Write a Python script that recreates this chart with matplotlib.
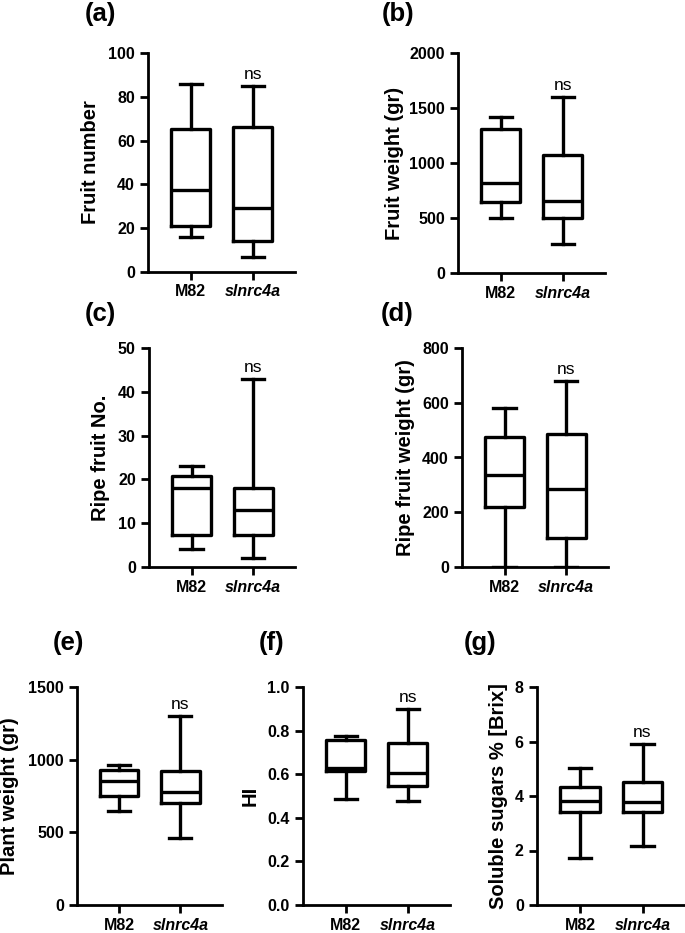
import matplotlib
matplotlib.use('Agg')
import matplotlib.pyplot as plt

plt.rcParams['font.family'] = ['Liberation Sans', 'DejaVu Sans']

# ============================================================================
# DATA  (five-number summaries: whisker low, Q1, median, Q3, whisker high)
# ============================================================================

GROUPS = ['M82', 'slnrc4a']

FRUIT_NUMBER_M82 = [16, 21, 37.5, 65.5, 86]
FRUIT_NUMBER_KO = [7, 14, 29, 66, 85]

FRUIT_WEIGHT_M82 = [500, 650, 820, 1310, 1420]
FRUIT_WEIGHT_KO = [260, 500, 655, 1070, 1600]

RIPE_NO_M82 = [4, 7.3, 18, 20.8, 23]
RIPE_NO_KO = [2, 7.3, 13, 18, 43]

RIPE_WEIGHT_M82 = [0, 220, 335, 475, 580]
RIPE_WEIGHT_KO = [0, 105, 285, 487, 680]

PLANT_WEIGHT_M82 = [645, 750, 850, 930, 965]
PLANT_WEIGHT_KO = [460, 705, 780, 920, 1300]

HI_M82 = [0.485, 0.615, 0.63, 0.755, 0.775]
HI_KO = [0.477, 0.548, 0.607, 0.743, 0.90]

BRIX_M82 = [1.73, 3.43, 3.83, 4.33, 5.02]
BRIX_KO = [2.15, 3.40, 3.78, 4.52, 5.9]

# ============================================================================
# LAYOUT (pixels)
# ============================================================================

W, H = 685, 933

PANELS = [
    # tag, ylabel, m82, ko, (ymax, ystep, fmt), axes rect (l, t, r, b), tag pos, ylabel x
    ('(a)', 'Fruit number', FRUIT_NUMBER_M82, FRUIT_NUMBER_KO, (100, 20, '{:.0f}'),
     (148, 53, 295, 272), (100, 14), 90),
    ('(b)', 'Fruit weight (gr)', FRUIT_WEIGHT_M82, FRUIT_WEIGHT_KO, (2000, 500, '{:.0f}'),
     (458, 53, 605, 273), (398, 14), 394),
    ('(c)', 'Ripe fruit No.', RIPE_NO_M82, RIPE_NO_KO, (50, 10, '{:.0f}'),
     (149, 348, 295, 567), (100, 314), 100),
    ('(d)', 'Ripe fruit weight (gr)', RIPE_WEIGHT_M82, RIPE_WEIGHT_KO, (800, 200, '{:.0f}'),
     (462, 348, 608, 567), (397, 314), 405),
    ('(e)', 'Plant weight (gr)', PLANT_WEIGHT_M82, PLANT_WEIGHT_KO, (1500, 500, '{:.0f}'),
     (77, 687, 222, 905), (68, 643), 9),
    ('(f)', 'HI', HI_M82, HI_KO, (1.0, 0.2, '{:.1f}'),
     (303, 687, 450, 905), (272, 643), 250),
    ('(g)', 'Soluble sugars % [Brix]', BRIX_M82, BRIX_KO, (8, 2, '{:.0f}'),
     (537, 687, 685, 905), (480, 643), 498),
]

LW_BOX = 2.4
LW_AXIS = 2.0


def five_to_stats(values, label):
    lo, q1, med, q3, hi = values
    return {'whislo': lo, 'q1': q1, 'med': med, 'q3': q3, 'whishi': hi,
            'fliers': [], 'label': label}


def draw_panel(fig, spec):
    tag, ylabel, m82, ko, (ymax, ystep, fmt), rect, tag_pos, ylab_x = spec
    l, t, r, b = rect
    ax = fig.add_axes([l / W, 1 - b / H, (r - l) / W, (b - t) / H])

    stats = [five_to_stats(m82, GROUPS[0]), five_to_stats(ko, GROUPS[1])]
    line = dict(color='black', linewidth=LW_BOX)
    ax.bxp(stats, positions=[1, 2], widths=0.63, capwidths=0.36,
           showfliers=False, boxprops=line, whiskerprops=line,
           capprops=line, medianprops=line)

    ax.set_xlim(0.31, 2.68)
    ax.set_ylim(0, ymax)
    n = int(round(ymax / ystep))
    ticks = [i * ystep for i in range(n + 1)]
    ax.set_yticks(ticks)
    ax.set_yticklabels([fmt.format(v) for v in ticks])
    ax.set_xticks([1, 2])
    ax.set_xticklabels(GROUPS)

    for s in ['top', 'right']:
        ax.spines[s].set_visible(False)
    for s in ['left', 'bottom']:
        ax.spines[s].set_linewidth(LW_AXIS)
    ax.tick_params(axis='both', width=LW_AXIS, length=6, labelsize=11.5)
    ax.tick_params(axis='x', pad=3)
    for lbl in ax.get_yticklabels() + ax.get_xticklabels():
        lbl.set_fontweight('bold')
    ax.get_xticklabels()[1].set_style('italic')

    ax.set_ylabel(ylabel, fontsize=14.5, fontweight='bold', va='center')
    ax.yaxis.set_label_coords((ylab_x - l) / (r - l), 0.5)

    ax.annotate('ns', xy=(2, ko[4]), xytext=(0, 5), textcoords='offset points',
                ha='center', va='baseline', fontsize=12.5)

    fig.text(tag_pos[0] / W, 1 - tag_pos[1] / H, tag, ha='center', va='center',
             fontsize=18.5, fontweight='bold')
    return ax


def main():
    fig = plt.figure(figsize=(W / 100, H / 100), dpi=100)
    for spec in PANELS:
        draw_panel(fig, spec)
    fig.savefig('out.png', dpi=100)
    plt.close(fig)


if __name__ == '__main__':
    main()
